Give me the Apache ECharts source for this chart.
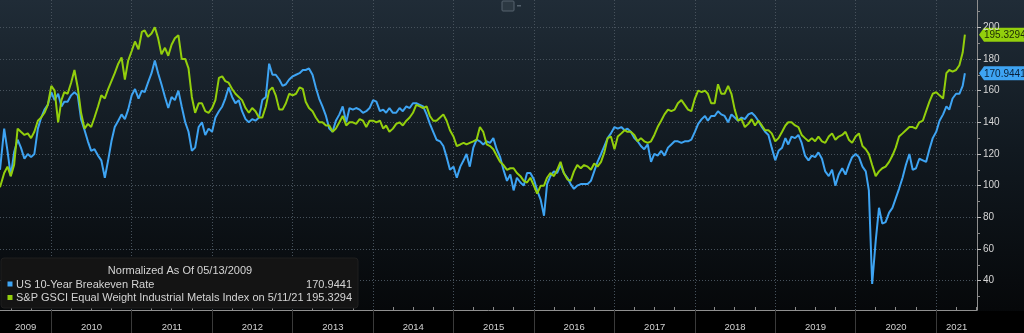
<!DOCTYPE html>
<html><head><meta charset="utf-8">
<script src="https://cdn.jsdelivr.net/npm/echarts@6/dist/echarts.min.js"></script>
<style>html,body{margin:0;padding:0;background:#000;}#c{width:1024px;height:333px;}</style>
</head><body><div id="c"></div>
<script>
// ---------- DATA ----------
const startDate = '2009-05-13';
const endDate = '2021-05-11';
const axisMinDate = '2009-05-13';
const axisMaxDate = '2021-07-05';
const legendTitle = 'Normalized As Of 05/13/2009';
const blueName = 'US 10-Year Breakeven Rate';
const greenName = 'S&P GSCI Equal Weight Industrial Metals Index on 5/11/21';
const yearBounds = ['2010-01-01','2011-01-01','2012-01-01','2013-01-01','2014-01-01','2015-01-01','2016-01-01','2017-01-01','2018-01-01','2019-01-01','2020-01-01','2021-01-01'];
const yTickValues = [40, 60, 80, 100, 120, 140, 160, 180, 200];
const yMinorValues = [30, 50, 70, 90, 110, 130, 150, 170, 190, 210];

// semi-monthly samples (start, 1st & 16th of each month, end)
const blueValues = [
  110,136,122,106,121,129,124,117,120,118,120,136,143,148,151,              // 2009
  159,154,158,150,153,153,157,159,157,142,135,128,122,123,119,116,105,116,128,137,141,145,142,148, // 2010
  157,161,155,160,159,165,171,179,171,164,156,149,156,154,160,150,140,134,122,124,137,140,132,136, // 2011
  134,143,147,150,155,162,156,152,154,147,142,140,142,141,143,154,156,177,170,170,167,163,164,167, // 2012
  169,170,171,173,173,174,170,162,155,150,144,136,134,141,145,150,140,149,148,149,148,146,147,149, // 2013
  154,153,147,148,146,149,146,146,149,147,150,149,152,152,151,150,145,139,134,129,128,125,118,110, // 2014
  112,105,112,116,120,112,124,129,128,126,128,127,130,123,118,110,103,107,97,105,102,100,108,108,  // 2015
  104,97,91,81,101,106,109,108,113,108,105,101,98,100,101,101,101,103,109,115,120,125,130,133,      // 2016
  137,136,137,135,136,134,130,128,125,123,126,115,120,119,122,119,124,126,128,128,127,128,128,129, // 2017
  134,139,142,144,141,144,144,147,145,144,140,145,143,141,143,142,145,146,144,141,137,134,132,124, // 2018
  116,122,124,130,126,131,130,132,127,119,116,119,118,121,117,109,106,110,100,107,111,107,113,118, // 2019
  120,118,112,109,97,38,65,86,76,77,83,86,92,98,105,113,120,110,111,117,116,115,123,130,           // 2020
  134,141,145,150,148,155,158,158,163,170.9441                                                     // 2021
];
const greenValues = [
  99,108,112,106,113,136,134,132,133,130,134,141,143,146,151,               // 2009
  163,160,140,154,159,158,165,173,162,146,136,139,137,143,150,157,155,161,166,171,177,181,167,179, // 2010
  185,191,186,197,198,194,196,200,193,183,187,182,189,193,195,180,180,174,156,146,152,152,147,146, // 2011
  149,154,168,169,166,165,161,158,156,154,149,146,149,147,143,143,150,160,162,157,148,148,152,158, // 2012
  157,158,162,161,153,149,147,143,140,140,138,138,134,136,140,144,138,140,140,139,142,141,137,141, // 2013
  141,140,141,136,138,134,136,139,140,138,141,143,146,151,150,149,150,144,141,141,143,145,141,135, // 2014
  131,125,126,127,126,127,128,129,137,134,126,125,123,119,115,113,110,111,111,108,106,103,102,105, // 2015
  100,95,100,100,105,108,106,110,115,108,104,103,109,113,111,113,112,110,114,112,115,121,130,131,  // 2016
  123,131,133,135,134,134,132,128,130,128,127,128,132,137,141,145,148,147,148,152,154,151,148,147, // 2017
  155,160,159,160,158,152,152,164,158,158,163,158,148,141,142,137,139,142,138,141,138,135,135,133, // 2018
  128,130,134,138,140,140,138,137,132,130,128,130,128,131,128,127,131,133,129,131,132,134,129,127, // 2019
  131,133,125,123,120,113,106,109,111,112,115,119,124,131,133,135,137,137,136,140,141,147,153,158, // 2020
  159,157,155,171,173,172,173,176,184,195.3294                                                     // 2021
];

// ---------- BUILD ----------
function buildDates() {
  const d = [startDate];
  for (let y = 2009; y <= 2021; y++) {
    for (let m = 1; m <= 12; m++) {
      if (y === 2009 && m < 6) continue;
      if (y === 2021 && m > 5) break;
      const mm = String(m).padStart(2, '0');
      d.push(y + '-' + mm + '-01');
      if (!(y === 2021 && m === 5)) d.push(y + '-' + mm + '-16');
    }
  }
  d.push(endDate);
  return d;
}
const dates = buildDates();
const P = s => +echarts.time.parse(s);
const tMin = P(axisMinDate), tMax = P(axisMaxDate);
const boundsT = yearBounds.map(P);
const edges = [tMin].concat(boundsT, [tMax]);
const yearMids = [];
for (let i = 0; i < edges.length - 1; i++) yearMids.push((edges[i] + edges[i + 1]) / 2);
const quarterTicks = [];
for (let y = 2009; y <= 2021; y++) ['04', '07', '10'].forEach(m => { const t = P(y + '-' + m + '-01'); if (t > tMin && t < tMax) quarterTicks.push(t); });

const BLUE = '#3ea4f3';
const GREEN = '#93cf0c';
const FONT = "'Liberation Sans', Arial, sans-serif";

const chart = echarts.init(document.getElementById('c'), null, { renderer: 'canvas' });

function baseGraphics() {
  return [
    { id: 'band', type: 'rect', shape: { x: 0, y: 311, width: 1024, height: 22 }, style: { fill: '#000' }, z: -100, silent: true },
    { id: 'icon', type: 'rect', shape: { x: 502, y: 1, width: 12, height: 10, r: 1 }, style: { fill: '#2c3842', stroke: '#56636e', lineWidth: 1 }, z: 50 },
    { id: 'icon2', type: 'rect', shape: { x: 517, y: 5, width: 4, height: 1.5 }, style: { fill: '#56636e' }, z: 50 },
    { id: 'lgbox', type: 'rect', shape: { x: 1, y: 258, width: 357, height: 50, r: 3 }, style: { fill: '#141414', stroke: '#1f1f1f', lineWidth: 1 }, z: 50 },
    { id: 'lgt', type: 'text', x: 180, y: 270.5, style: { text: legendTitle, fill: '#d4d4d4', font: '11px ' + FONT, align: 'center', verticalAlign: 'middle' }, z: 51 },
    { id: 'lgs1', type: 'rect', shape: { x: 7.5, y: 281.5, width: 5, height: 5 }, style: { fill: BLUE }, z: 51 },
    { id: 'lgn1', type: 'text', x: 16, y: 284.5, style: { text: blueName, fill: '#d4d4d4', font: '11px ' + FONT, verticalAlign: 'middle' }, z: 51 },
    { id: 'lgv1', type: 'text', x: 352, y: 284.5, style: { text: blueValues[blueValues.length - 1].toFixed(4), fill: '#d4d4d4', font: '11px ' + FONT, align: 'right', verticalAlign: 'middle' }, z: 51 },
    { id: 'lgs2', type: 'rect', shape: { x: 7.5, y: 295, width: 5, height: 5 }, style: { fill: GREEN }, z: 51 },
    { id: 'lgn2', type: 'text', x: 16, y: 297.5, style: { text: greenName, fill: '#d4d4d4', font: '11px ' + FONT, verticalAlign: 'middle' }, z: 51 },
    { id: 'lgv2', type: 'text', x: 352, y: 297.5, style: { text: greenValues[greenValues.length - 1].toFixed(4), fill: '#d4d4d4', font: '11px ' + FONT, align: 'right', verticalAlign: 'middle' }, z: 51 }
  ];
}

const option = {
  animation: false,
  backgroundColor: {
    type: 'linear', x: 0, y: 0, x2: 0, y2: 1,
    colorStops: [{ offset: 0, color: '#202c37' }, { offset: 0.45, color: '#111920' }, { offset: 0.93, color: '#06080a' }, { offset: 1, color: '#000' }]
  },
  grid: { left: 0, right: 47, top: 0, bottom: 23, containLabel: false },
  xAxis: [{
    type: 'value', min: tMin, max: tMax, scale: true,
    axisLine: { show: true, lineStyle: { color: '#8f8f8f', width: 1 } },
    axisTick: { show: true, customValues: boundsT, length: 23, inside: false, lineStyle: { color: '#3a3a3a' } },
    axisLabel: { show: true, customValues: yearMids, formatter: v => String(new Date(v).getFullYear()), color: '#d2d2d2', fontSize: 9.5, fontFamily: FONT, margin: 12 },
    splitLine: { show: true, lineStyle: { color: '#47525c', type: [1, 2], width: 1 } }
  }, {
    type: 'value', min: tMin, max: tMax, scale: true, position: 'bottom',
    axisLine: { show: false },
    axisTick: { show: true, inside: true, length: 3, customValues: quarterTicks, lineStyle: { color: '#8a8a8a' } },
    axisLabel: { show: false, customValues: quarterTicks }, splitLine: { show: false }
  }],
  yAxis: [{
    type: 'value', position: 'right', min: 21.5, max: 217.2,
    axisLine: { show: true, lineStyle: { color: '#8f8f8f', width: 1 } },
    axisTick: { show: true, length: 4, customValues: yTickValues, lineStyle: { color: '#bdbdbd' } },
    axisLabel: { show: true, customValues: yTickValues, color: '#d6d6d6', fontSize: 10, fontFamily: FONT, margin: 6 },
    splitLine: { show: true, lineStyle: { color: '#47525c', type: [1, 2], width: 1 } }
  }, {
    type: 'value', position: 'right', min: 21.5, max: 217.2,
    axisLine: { show: false },
    axisTick: { show: true, length: 3, customValues: yMinorValues, lineStyle: { color: '#8a8a8a' } },
    axisLabel: { show: false, customValues: yMinorValues }, splitLine: { show: false }
  }],
  series: [{
    type: 'line', name: blueName, data: dates.map((d, i) => [P(d), blueValues[i]]),
    showSymbol: false, symbol: 'none', lineStyle: { color: BLUE, width: 2 }, itemStyle: { color: BLUE }, z: 3
  }, {
    type: 'line', name: greenName, data: dates.map((d, i) => [P(d), greenValues[i]]),
    showSymbol: false, symbol: 'none', lineStyle: { color: GREEN, width: 2 }, itemStyle: { color: GREEN }, z: 4
  }],
  graphic: baseGraphics()
};
chart.setOption(option);

function tag(id, value, color, textColor) {
  const y = chart.convertToPixel({ yAxisIndex: 0 }, value);
  return {
    id: id, type: 'group', x: 979, y: y, z: 60,
    children: [
      { type: 'polygon', shape: { points: [[0, 0], [5, -7], [45, -7], [45, 7], [5, 7]] }, style: { fill: color } },
      { type: 'text', x: 5, y: 0.5, style: { text: value.toFixed(4), fill: textColor, font: '10px ' + FONT, verticalAlign: 'middle' } }
    ]
  };
}
const allGraphics = baseGraphics().concat([
  tag('tagG', greenValues[greenValues.length - 1], GREEN, '#1c2a06'),
  tag('tagB', blueValues[blueValues.length - 1], BLUE, '#0a2038')
]);
chart.setOption({ graphic: allGraphics }, { replaceMerge: ['graphic'] });
</script></body></html>
